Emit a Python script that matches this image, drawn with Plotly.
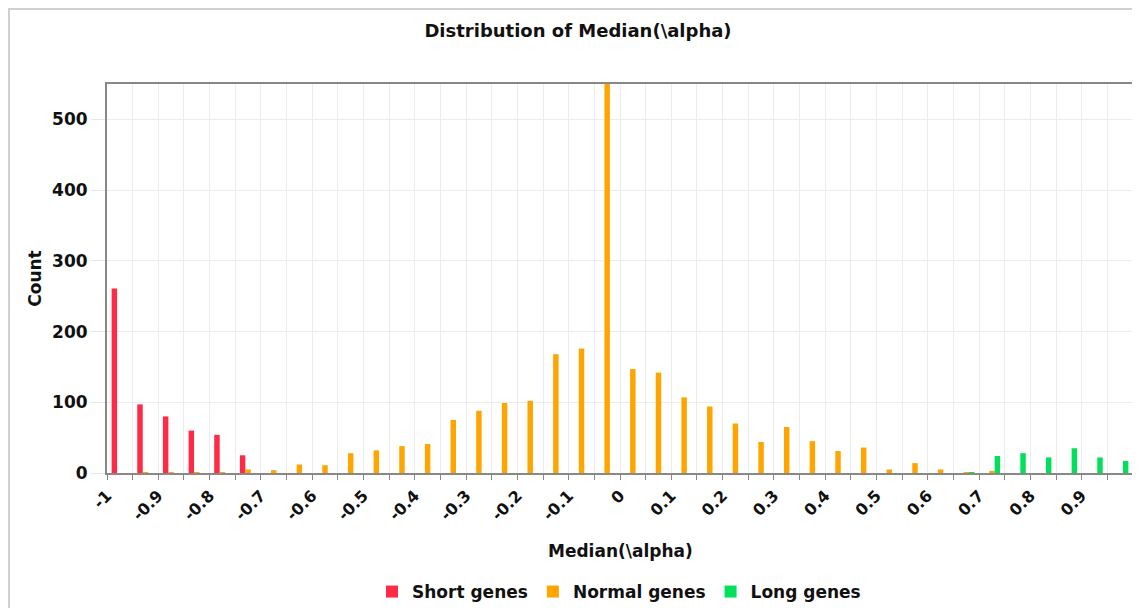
import plotly.graph_objects as go

# Bin centres (bins of width 0.05 from -1 to 1)
bin_centers = [-0.975, -0.925, -0.875, -0.825, -0.775, -0.725, -0.675, -0.625,
               -0.575, -0.525, -0.475, -0.425, -0.375, -0.325, -0.275, -0.225,
               -0.175, -0.125, -0.075, -0.025, 0.025, 0.075, 0.125, 0.175,
               0.225, 0.275, 0.325, 0.375, 0.425, 0.475, 0.525, 0.575,
               0.625, 0.675, 0.725, 0.775, 0.825, 0.875, 0.925, 0.975]

short_genes = [261, 97, 80, 60, 54, 25, 0, 0, 0, 0, 0, 0, 0, 0, 0, 0, 0, 0, 0, 0,
               0, 0, 0, 0, 0, 0, 0, 0, 0, 0, 0, 0, 0, 0, 0, 0, 0, 0, 0, 0]
normal_genes = [0, 1, 1, 1, 1, 5, 4, 12, 11, 28, 32, 38, 41, 75, 88, 99, 102, 168, 176, 550,
                147, 142, 107, 94, 70, 44, 65, 45, 31, 36, 5, 14, 5, 1, 3, 0, 0, 0, 0, 0]
long_genes = [0, 0, 0, 0, 0, 0, 0, 0, 0, 0, 0, 0, 0, 0, 0, 0, 0, 0, 0, 0,
              0, 0, 0, 0, 0, 0, 0, 0, 0, 0, 0, 0, 0, 1, 24, 28, 22, 35, 22, 17]

series_names = ["Short genes", "Normal genes", "Long genes"]
series_colors = ["#ff2a45", "#ffa500", "#00e05a"]

x_tick_vals = [-1, -0.9, -0.8, -0.7, -0.6, -0.5, -0.4, -0.3, -0.2, -0.1,
               0, 0.1, 0.2, 0.3, 0.4, 0.5, 0.6, 0.7, 0.8, 0.9]
x_tick_text = ["-1", "-0.9", "-0.8", "-0.7", "-0.6", "-0.5", "-0.4", "-0.3", "-0.2", "-0.1",
               "0", "0.1", "0.2", "0.3", "0.4", "0.5", "0.6", "0.7", "0.8", "0.9"]
y_tick_vals = [0, 100, 200, 300, 400, 500]

FONT = "DejaVu Sans"
TXT = "#111111"

fig = go.Figure()
for name, vals, col in zip(series_names, [short_genes, normal_genes, long_genes], series_colors):
    fig.add_trace(go.Bar(x=bin_centers, y=vals, name=name, marker_color=col,
                         marker_line_width=0))

# the page body adds an 8px offset; work in screen pixels and convert
OFF = 8
W, H = 1140, 608
L = 107 - OFF
T = 84 - OFF
R = W - (1133 - OFF)
B = H - (473 - OFF)
pw, ph = W - L - R, H - T - B

def px_x(sx):
    return (sx - OFF - L) / pw

def px_y(sy):
    return (H - B - (sy - OFF)) / ph

fig.update_layout(
    width=W, height=H,
    margin=dict(l=L, r=R, t=T, b=B, autoexpand=False),
    paper_bgcolor="white", plot_bgcolor="white",
    barmode="group", bargap=0.36, bargroupgap=0,
    font=dict(family=FONT, color=TXT, size=16, weight="bold"),
    title=dict(text="Distribution of Median(\\alpha)", x=(578 - OFF) / W, xanchor="center",
               y=1 - (31 - OFF) / H, yanchor="middle",
               font=dict(family=FONT, size=18, weight="bold", color=TXT)),
    showlegend=True,
    legend=dict(orientation="h", x=px_x(619), xanchor="center", y=px_y(592), yanchor="middle",
                font=dict(family=FONT, size=17, weight="bold", color=TXT),
                itemwidth=30, itemsizing="constant", traceorder="normal",
                bgcolor="rgba(0,0,0,0)"),
    xaxis=dict(range=[-1, 1], tickvals=x_tick_vals, ticktext=x_tick_text,
               tickangle=-45, ticks="outside", ticklen=5, tickcolor="#888888",
               showgrid=True, gridcolor="#ececec", gridwidth=1,
               minor=dict(dtick=0.05, tick0=-1, ticks="outside", ticklen=5,
                          tickcolor="#888888", showgrid=True, gridcolor="#ececec"),
               showline=True, linecolor="#888888", linewidth=2, mirror=True,
               zeroline=False, automargin=False,
               tickfont=dict(family=FONT, size=16, weight="bold", color=TXT)),
    yaxis=dict(range=[0, 550], tickvals=y_tick_vals, ticks="outside", ticklen=14,
               tickcolor="#e6e6e6", showgrid=True, gridcolor="#ececec", gridwidth=1,
               showline=True, linecolor="#888888", linewidth=2, mirror=True,
               zeroline=False, automargin=False,
               tickfont=dict(family=FONT, size=17, weight="bold", color=TXT),
               title=dict(text="Count", standoff=6,
                          font=dict(family=FONT, size=17, weight="bold", color=TXT))),
    annotations=[dict(text="Median(\\alpha)", xref="paper", yref="paper",
                      x=px_x(620), y=px_y(551), xanchor="center", yanchor="middle",
                      showarrow=False,
                      font=dict(family=FONT, size=17, weight="bold", color=TXT))],
    shapes=[dict(type="rect", xref="paper", yref="paper",
                 x0=px_x(9), x1=px_x(1180), y0=px_y(660), y1=px_y(9),
                 line=dict(color="#d0d0d0", width=2), fillcolor="rgba(0,0,0,0)",
                 layer="below")],
)

fig.write_html("out.html")
